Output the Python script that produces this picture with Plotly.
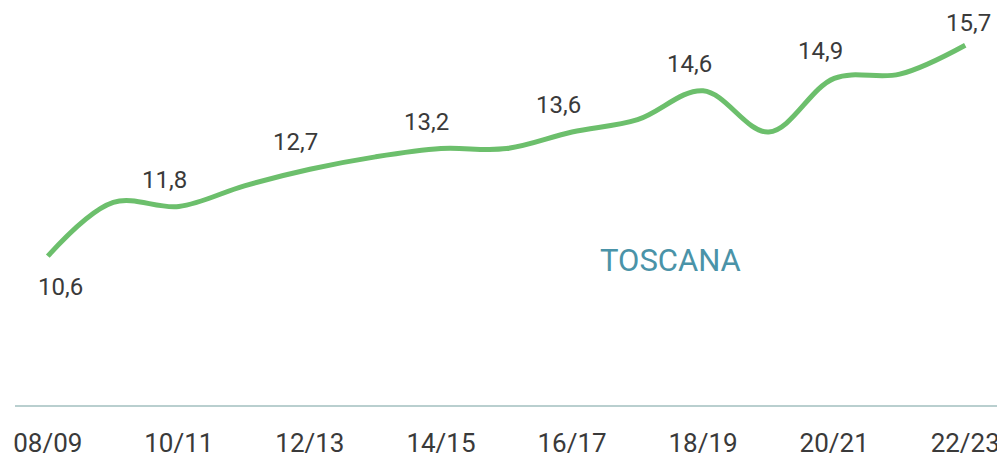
import plotly.graph_objects as go

years  = ["08/09", "09/10", "10/11", "11/12", "12/13", "13/14", "14/15", "15/16",
          "16/17", "17/18", "18/19", "19/20", "20/21", "21/22", "22/23"]
values = [10.6, 11.9, 11.8, 12.3, 12.7, 13.0, 13.2, 13.2,
          13.6, 13.9, 14.6, 13.6, 14.9, 15.0, 15.7]
labelled   = years[::2]
tick_text  = years[::2]

LINE  = "#6cbf6c"
TEXT  = "#3a3a3a"
TEAL  = "#4a93a8"
AXIS  = "#b9cfcf"

x = list(range(len(years)))

fig = go.Figure()
fig.add_trace(go.Scatter(
    x=x, y=values, mode="lines",
    line=dict(color=LINE, width=5, shape="spline", smoothing=1),
    showlegend=False, hoverinfo="skip",
))

last = len(years) - 1
for i, (yr, v) in enumerate(zip(years, values)):
    if yr not in labelled:
        continue
    if i == 0:
        dx, dy = 13, -31          # first label sits under the line
    elif i == last:
        dx, dy = 3, 22            # keep inside the top edge
    else:
        dx, dy = -14, 27
    fig.add_annotation(
        x=i, y=v, text=f"{v:.1f}".replace(".", ","), showarrow=False,
        font=dict(family="Roboto", size=24, color=TEXT),
        xshift=dx, yshift=dy, borderpad=0,
    )

fig.add_annotation(x=9.5, y=10.5, text="TOSCANA", showarrow=False,
                   font=dict(family="Roboto", size=31, color=TEAL))

fig.update_xaxes(
    range=[-0.5, 14.5], tickvals=x[::2], ticktext=tick_text,
    showgrid=False, zeroline=False, showline=True, linecolor=AXIS, linewidth=1.5,
    ticks="", ticklabelstandoff=14,
    tickfont=dict(family="Roboto", size=26, color=TEXT),
)
fig.update_yaxes(range=[7.0, 16.6], visible=False, showgrid=False, zeroline=False)
# page body keeps its default 8px margin, so the figure is sized to fit inside it
fig.update_layout(
    width=997, height=455,
    paper_bgcolor="white", plot_bgcolor="white",
    margin=dict(l=7, r=7, t=0, b=58),
)
fig.write_html("out.html")
